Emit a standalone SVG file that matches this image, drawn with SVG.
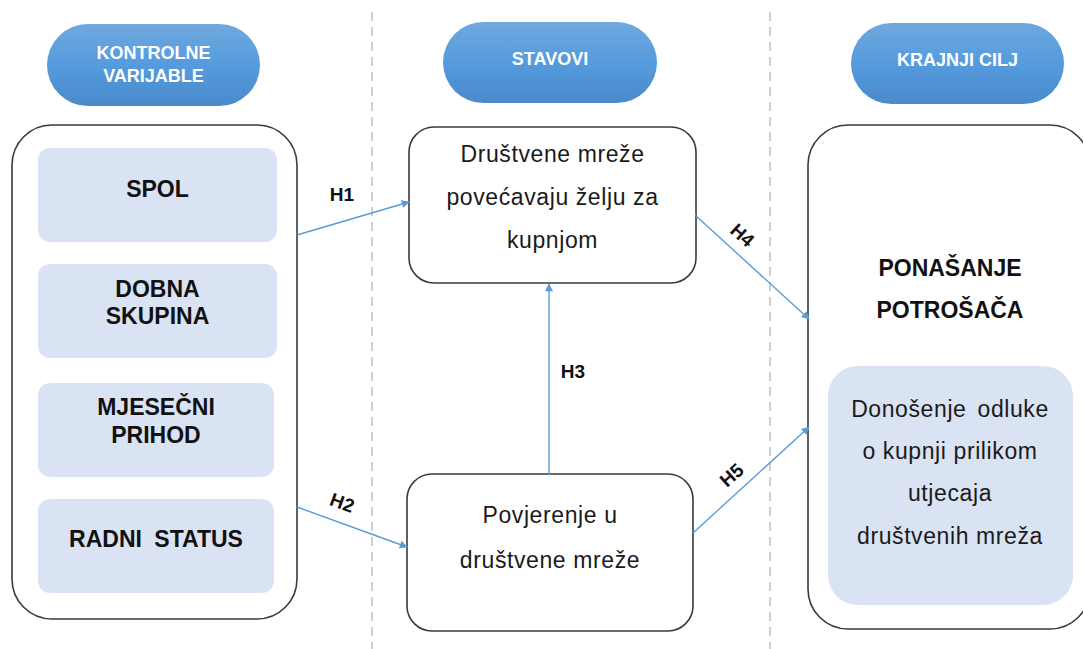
<svg xmlns="http://www.w3.org/2000/svg" width="1083" height="649" viewBox="0 0 1083 649">
  <defs>
    <linearGradient id="pillFill" x1="0" y1="0" x2="0" y2="1">
      <stop offset="0" stop-color="#6FA8DE"/>
      <stop offset="0.5" stop-color="#559BDD"/>
      <stop offset="1" stop-color="#4A8ACB"/>
    </linearGradient>
    <marker id="arrow" viewBox="0 0 10 10" refX="9" refY="5" markerWidth="9" markerHeight="8" markerUnits="userSpaceOnUse" orient="auto">
      <path d="M0,0 L10,5 L0,10 z" fill="#5B9BD5"/>
    </marker>
  </defs>
  <style>
    .pill { fill: url(#pillFill); }
    .pillText { font-family: "Liberation Sans", Arial, sans-serif; font-size: 18px; font-weight: bold; fill: #FFFFFF; text-anchor: middle; }
    .frame { fill: #FFFFFF; stroke: #3A3A3A; stroke-width: 1.6; }
    .item { fill: #DAE3F3; stroke: none; }
    .bold { font-family: "Liberation Sans", Arial, sans-serif; font-size: 23px; font-weight: bold; fill: #111111; text-anchor: middle; }
    .plain { font-family: "Liberation Sans", Arial, sans-serif; font-size: 23px; letter-spacing: 0.6px; fill: #1A1A1A; text-anchor: middle; }
    .divider { stroke: #C4C4C4; stroke-width: 1.6; stroke-dasharray: 9 6; fill: none; }
    .link { stroke: #5B9BD5; stroke-width: 1.4; fill: none; marker-end: url(#arrow); }
    .hyp { font-family: "Liberation Sans", Arial, sans-serif; font-size: 19px; font-weight: bold; fill: #111111; text-anchor: middle; }
  </style>

  <rect width="1083" height="649" fill="#FFFFFF"/>

  <!-- column dividers -->
  <g id="dividers">
    <line class="divider" x1="372" y1="12" x2="372" y2="649"/>
    <line class="divider" x1="770" y1="12" x2="770" y2="649"/>
  </g>

  <!-- column headers -->
  <g id="header-kontrolne">
    <rect class="pill" x="47" y="24" width="213" height="82" rx="41"/>
    <text class="pillText" x="153.5" y="59">KONTROLNE</text>
    <text class="pillText" x="153.5" y="82">VARIJABLE</text>
  </g>
  <g id="header-stavovi">
    <rect class="pill" x="443" y="22" width="214" height="81" rx="40.5"/>
    <text class="pillText" x="550" y="65">STAVOVI</text>
  </g>
  <g id="header-cilj">
    <rect class="pill" x="851" y="23" width="213" height="81" rx="40.5"/>
    <text class="pillText" x="957.5" y="66">KRAJNJI CILJ</text>
  </g>

  <!-- control variables -->
  <g id="kontrolne-varijable">
    <rect class="frame" x="12" y="125" width="285" height="494" rx="40"/>
    <g id="spol">
      <rect class="item" x="38" y="148" width="239" height="94" rx="12"/>
      <text class="bold" x="157.5" y="197">SPOL</text>
    </g>
    <g id="dobna-skupina">
      <rect class="item" x="38" y="264" width="239" height="94" rx="12"/>
      <text class="bold" x="157.5" y="297">DOBNA</text>
      <text class="bold" x="157.5" y="324">SKUPINA</text>
    </g>
    <g id="mjesecni-prihod">
      <rect class="item" x="38" y="383" width="236" height="94" rx="12"/>
      <text class="bold" x="156" y="415">MJESEČNI</text>
      <text class="bold" x="156" y="443">PRIHOD</text>
    </g>
    <g id="radni-status">
      <rect class="item" x="38" y="499" width="236" height="94" rx="12"/>
      <text class="bold" x="156" y="547" word-spacing="6">RADNI STATUS</text>
    </g>
  </g>

  <!-- attitudes -->
  <g id="drustvene-mreze">
    <rect class="frame" x="409" y="127" width="287" height="156" rx="25"/>
    <text class="plain" x="552.5" y="162">Društvene mreže</text>
    <text class="plain" x="552.5" y="205">povećavaju želju za</text>
    <text class="plain" x="552.5" y="248">kupnjom</text>
  </g>
  <g id="povjerenje">
    <rect class="frame" x="407" y="474" width="286" height="157" rx="25"/>
    <text class="plain" x="550" y="523">Povjerenje u</text>
    <text class="plain" x="550" y="568">društvene mreže</text>
  </g>

  <!-- final goal -->
  <g id="ponasanje-potrosaca">
    <rect class="frame" x="808" y="125" width="282" height="504" rx="40"/>
    <text class="bold" x="950" y="276">PONAŠANJE</text>
    <text class="bold" x="950" y="318">POTROŠAČA</text>
    <g id="odluka">
      <rect class="item" x="828" y="366" width="245" height="239" rx="30"/>
      <text class="plain" x="950" y="417" word-spacing="4">Donošenje odluke</text>
      <text class="plain" x="950" y="459">o kupnji prilikom</text>
      <text class="plain" x="950" y="501">utjecaja</text>
      <text class="plain" x="950" y="544">društvenih mreža</text>
    </g>
  </g>

  <!-- hypotheses -->
  <g id="connectors">
    <line class="link" x1="297" y1="235" x2="409" y2="202"/>
    <line class="link" x1="297" y1="507" x2="407" y2="547"/>
    <line class="link" x1="549" y1="475" x2="549" y2="284"/>
    <line class="link" x1="695" y1="215" x2="809" y2="319"/>
    <line class="link" x1="693" y1="533" x2="809" y2="427"/>
    <text class="hyp" x="342" y="201">H1</text>
    <text class="hyp" transform="translate(340 509) rotate(20)">H2</text>
    <text class="hyp" x="573" y="378">H3</text>
    <text class="hyp" transform="translate(738 240) rotate(42)">H4</text>
    <text class="hyp" transform="translate(736 480) rotate(-42)">H5</text>
  </g>
</svg>
